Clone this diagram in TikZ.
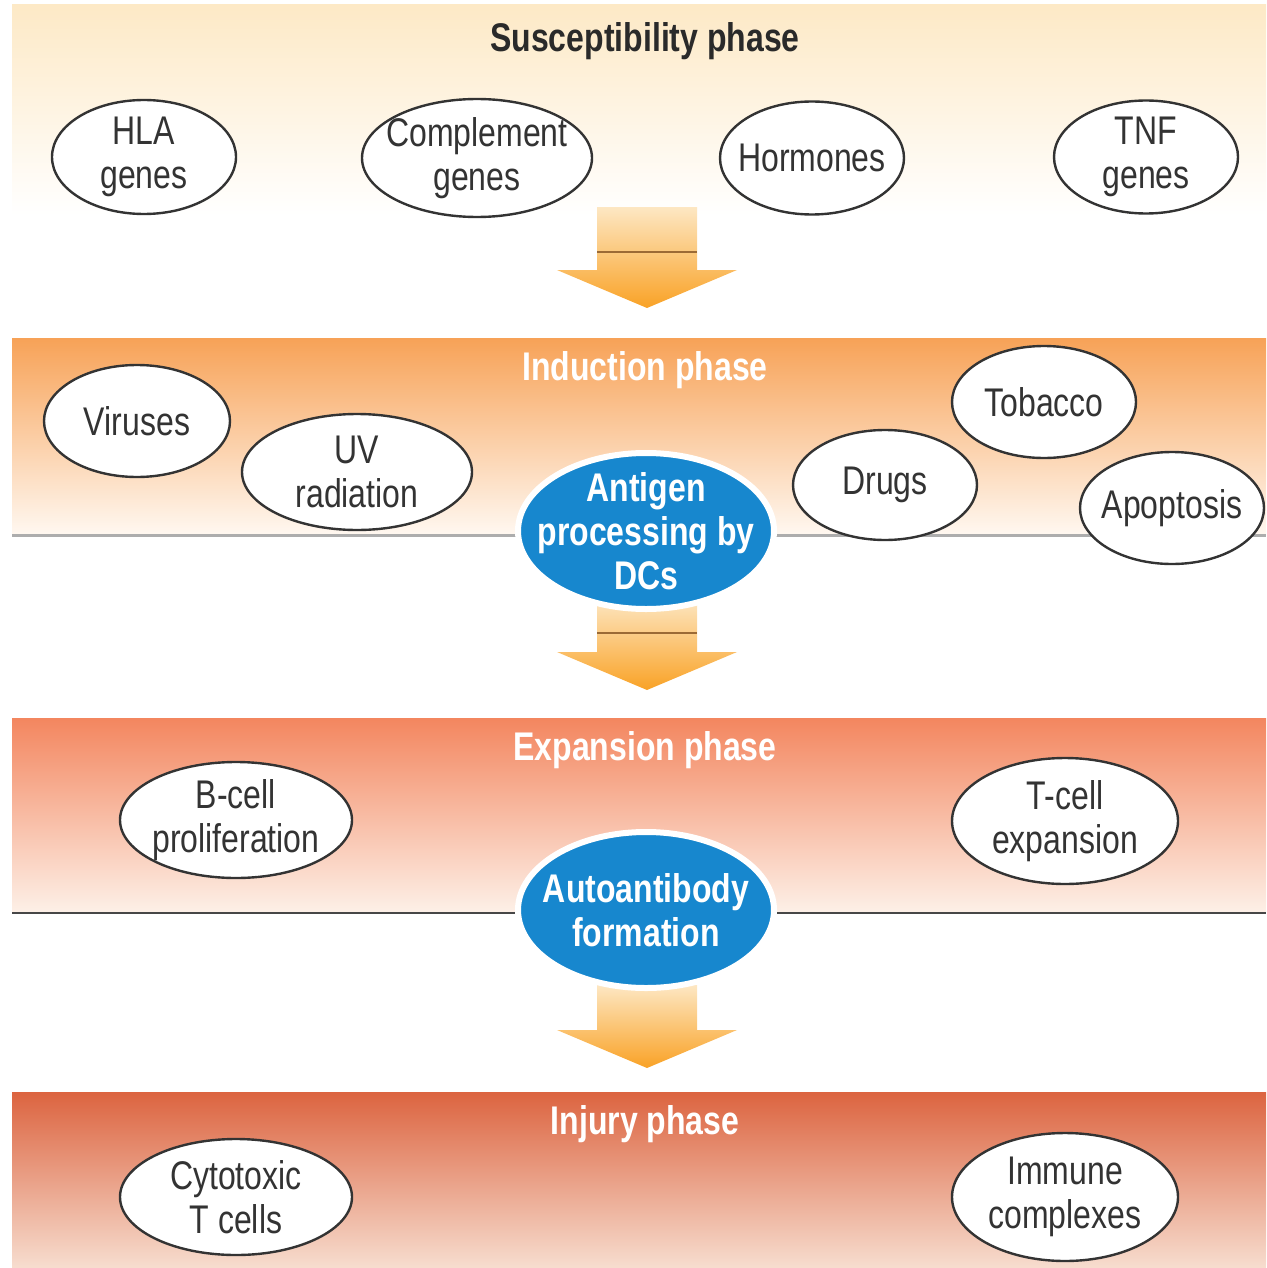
\documentclass[tikz,border=0pt]{standalone}
\usepackage{fontspec}
\setmainfont{Liberation Sans}[FakeStretch=0.8]
\usetikzlibrary{shapes.geometric}

\definecolor{susctop}{HTML}{FDE9C6}
\definecolor{inductop}{HTML}{F7A257}
\definecolor{inducmid}{HTML}{FBCB9E}
\definecolor{inducbot}{HTML}{FFF8F1}
\definecolor{expantop}{HTML}{F3865F}
\definecolor{expanmid}{HTML}{F7B79C}
\definecolor{expanbot}{HTML}{FDF0E7}
\definecolor{injurytop}{HTML}{DC6440}
\definecolor{injurymid}{HTML}{EBA283}
\definecolor{injurybot}{HTML}{F7DDCF}
\definecolor{arrowtop}{HTML}{FDE7C3}
\definecolor{arrowtip}{HTML}{F9A226}
\definecolor{arrowrule}{HTML}{9B6A35}
\definecolor{dcblue}{HTML}{1787CE}
\definecolor{ellgrey}{HTML}{333333}
\definecolor{txtgrey}{HTML}{333333}
\definecolor{titlegrey}{HTML}{2A2A2A}

\begin{document}
\begin{tikzpicture}[x=1pt,y=-1pt,line cap=round,line join=round,
  cause/.style={ellipse,draw=ellgrey,line width=2.4pt,fill=white,inner sep=-30pt,
    align=center,text=txtgrey,font=\fontsize{40}{44}\selectfont},
  keystep/.style={ellipse,draw=white,line width=6pt,fill=dcblue,inner sep=-30pt,
    align=center,text=white,font=\bfseries\fontsize{40}{44}\selectfont,
    minimum width=256,minimum height=156},
  phasetitle/.style={font=\bfseries\fontsize{40}{44}\selectfont,text=white}]
\path[use as bounding box] (0,0) rectangle (1266,1268);

% phase bands
\shade[top color=susctop,bottom color=white] (12,5) rectangle (1266,215);
\shade[top color=inductop,middle color=inducmid,bottom color=inducbot] (12,338) rectangle (1266,535);
\shade[top color=expantop,middle color=expanmid,bottom color=expanbot] (12,718) rectangle (1266,912);
\shade[top color=injurytop,middle color=injurymid,bottom color=injurybot] (12,1092) rectangle (1266,1268);
\draw[line width=3pt,color=black!32,line cap=butt] (12,535) -- (1266,535);
\draw[line width=2.5pt,color=black!72,line cap=butt] (12,913) -- (1266,913);

% arrows between phases
\foreach \ytop/\ybase/\ytip in {207/270/308,598/652/690,985/1030/1068}
  \shade[top color=arrowtop,bottom color=arrowtip]
    (597,\ytop) -- (697,\ytop) -- (697,\ybase) -- (737,\ybase) -- (647,\ytip)
    -- (557,\ybase) -- (597,\ybase) -- cycle;
\foreach \y in {252,633}
  \draw[arrowrule,line width=1.6pt,line cap=butt] (597,\y) -- (697,\y);

% titles
\node[phasetitle,text=titlegrey] (susc) at (645,41) {Susceptibility phase};
\node[phasetitle] (induc) at (645,370) {Induction phase};
\node[phasetitle] (expan) at (645,750) {Expansion phase};
\node[phasetitle] (injury) at (645,1124) {Injury phase};

% susceptibility
\node[cause,minimum width=184,minimum height=114] (hla) at (144,157) {HLA\\genes};
\node[cause,minimum width=230,minimum height=118] (compl) at (477,158) {Complement\\genes};
\node[cause,minimum width=184,minimum height=113] (horm) at (812,158) {Hormones};
\node[cause,minimum width=184,minimum height=113] (tnf) at (1146,157) {TNF\\genes};

% induction
\node[cause,minimum width=186,minimum height=112] (virus) at (137,421) {Viruses};
\node[cause,minimum width=230,minimum height=116] (uv) at (357,472) {UV\\radiation};
\node[cause,minimum width=184,minimum height=110] (drugs) at (885,485) {Drugs};
\node[cause,minimum width=184,minimum height=112] (tobac) at (1044,402) {Tobacco};
\node[cause,minimum width=184,minimum height=112] (apop) at (1172,508) {Apoptosis};
\node[keystep] (dcs) at (646,531) {Antigen\\processing by\\DCs};

% expansion
\node[cause,minimum width=232,minimum height=116] (bcell) at (236,820) {B-cell\\proliferation};
\node[cause,minimum width=226,minimum height=126] (tcell) at (1065,821) {T-cell\\expansion};
\node[keystep] (autoab) at (646,910) {Autoantibody\\formation};

% injury
\node[cause,minimum width=232,minimum height=116] (cytox) at (236,1197) {Cytotoxic\\T cells};
\node[cause,minimum width=226,minimum height=128] (immc) at (1065,1197) {Immune\\complexes};
\end{tikzpicture}
\end{document}
